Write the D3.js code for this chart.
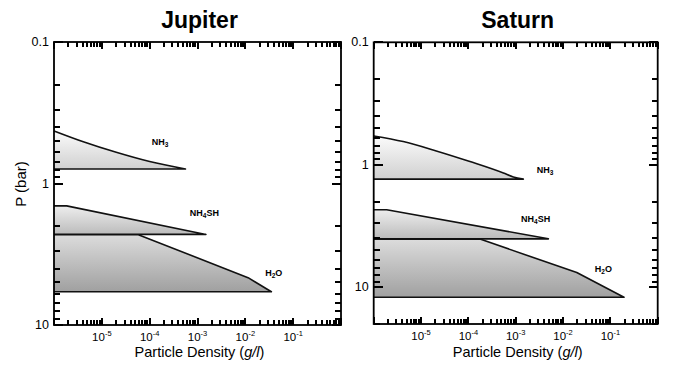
<!DOCTYPE html>
<html>
<head>
<meta charset="utf-8">
<script src="https://cdn.jsdelivr.net/npm/d3@7"></script>
<style>
	body { margin: 0; background: #fff; }
	svg { display: block; font-family: "Liberation Sans", Arial, sans-serif; }
</style>
</head>
<body>
<svg id="svg_main" width="675" height="369"></svg>
<script>
// cloud profiles: [density g/l, pressure bar], top edge from left to tip, then base
var jup_nh3 = [[1e-6, 0.425], [4.1e-6, 0.507], [2.0e-5, 0.602], [1.0e-4, 0.70], [5.6e-4, 0.79]];
var jup_nh4sh = [[1e-6, 1.44], [1.84e-6, 1.44], [1.5e-3, 2.29]];
var jup_h2o = [[1e-6, 2.30], [5.8e-5, 2.30], [1.14e-2, 4.63], [3.5e-2, 5.82]];

var sat_nh3 = [[1e-6, 0.582], [4.2e-6, 0.647], [2.1e-5, 0.772], [1.08e-4, 0.943], [5.5e-4, 1.17], [8.9e-4, 1.26], [1.45e-3, 1.31]];
var sat_nh4sh = [[1e-6, 2.33], [1.88e-6, 2.33], [4.9e-3, 4.03]];
var sat_h2o = [[1e-6, 4.05], [1.76e-4, 4.05], [1.95e-2, 7.6], [0.194, 12.1]];

var cloud_names = ["NH3", "NH4SH", "H2O"];
var jup_labels = [[1.1e-4, 0.535], [6.9e-4, 1.71], [2.6e-2, 4.47]];
var sat_labels = [[2.8e-3, 1.16], [1.3e-3, 2.96], [4.7e-2, 7.5]];

var x_domain = [1e-6, 1];
var jup_p_domain = [0.1, 10];
var sat_p_domain = [0.1, 20];
var x_tick_labels = [1e-5, 1e-4, 1e-3, 1e-2, 1e-1];
var p_tick_labels = [0.1, 1, 10];

var grads = [["#fbfbfb", "#d0d0d0"], ["#eeeeee", "#bbbbbb"], ["#dcdcdc", "#a0a0a0"]];

var svg = d3.select("#svg_main");
var defs = svg.append("defs");
grads.forEach((g, i) => {
	let lg = defs.append("linearGradient")
		.attr("id", `grad${i}`)
		.attr("x1", 0).attr("y1", 0).attr("x2", 0).attr("y2", 1);
	lg.append("stop").attr("offset", "0%").attr("stop-color", g[0]);
	lg.append("stop").attr("offset", "100%").attr("stop-color", g[1]);
});

function isDecade(v) {
	let l = Math.log10(v);
	return Math.abs(l - Math.round(l)) < 1e-6;
}

function subText(sel, name) {
	let parts = name.match(/[A-Z]+|\d+/g);
	let sub = false;
	for (let p of parts) {
		if (/\d/.test(p)) {
			sel.append("tspan").attr("font-size", "6.5px").attr("dy", 2).text(p);
			sub = true;
		} else {
			let t = sel.append("tspan").text(p);
			if (sub) { t.attr("dy", -2); sub = false; }
		}
	}
}

function panel(opt) {
	var g = svg.append("g");
	var x = d3.scaleLog().domain(x_domain).range([opt.left, opt.right]);
	var y = d3.scaleLog().domain(opt.pdom).range([opt.top, opt.bottom]);

	opt.clouds.forEach((c, i) => {
		let top = d3.line().x(d => x(d[0])).y(d => y(d[1]))
			.curve(i == 0 ? d3.curveMonotoneX : d3.curveLinear);
		let tip = c[c.length - 1];
		let edge = top(c) + `L${x(x_domain[0])},${y(tip[1])}`;
		g.append("path")
			.attr("d", edge + "Z")
			.attr("fill", `url(#grad${i})`)
			.attr("stroke", "none");
		g.append("path")
			.attr("d", edge)
			.attr("fill", "none")
			.attr("stroke", "#111")
			.attr("stroke-width", 1.6)
			.attr("stroke-linejoin", "round");
	});

	g.append("rect")
		.attr("x", opt.left).attr("y", opt.top)
		.attr("width", opt.right - opt.left).attr("height", opt.bottom - opt.top)
		.attr("fill", "none").attr("stroke", "#000").attr("stroke-width", 1.8);

	// ticks on all four sides, pointing inward, drawn over the frame
	var tk = g.append("g").attr("fill", "#000").attr("shape-rendering", "crispEdges");
	var xt = x.ticks();
	tk.selectAll(".xb").data(xt).join("rect")
		.attr("x", v => x(v) - 1).attr("width", 2)
		.attr("y", v => opt.bottom - (isDecade(v) ? 7 : 5))
		.attr("height", v => isDecade(v) ? 7 : 5);
	tk.selectAll(".xt").data(xt).join("rect")
		.attr("x", v => x(v) - 1).attr("width", 2)
		.attr("y", opt.top)
		.attr("height", v => isDecade(v) ? 7 : 5);
	var yt = y.ticks();
	tk.selectAll(".yl").data(yt).join("rect")
		.attr("y", v => y(v) - 1).attr("height", 2)
		.attr("x", opt.left)
		.attr("width", v => isDecade(v) ? 9 : 6);
	tk.selectAll(".yr").data(yt).join("rect")
		.attr("y", v => y(v) - 1).attr("height", 2)
		.attr("x", v => opt.right - (isDecade(v) ? 9 : 6))
		.attr("width", v => isDecade(v) ? 9 : 6);

	// tick labels
	x_tick_labels.forEach(v => {
		let t = g.append("text")
			.attr("x", x(v)).attr("y", opt.bottom + 16)
			.attr("text-anchor", "middle")
			.attr("font-size", "11.5px");
		t.append("tspan").text("10");
		t.append("tspan").attr("font-size", "7.5px").attr("dy", -5).text("-" + Math.round(-Math.log10(v)));
	});
	p_tick_labels.filter(v => v >= opt.pdom[0] && v <= opt.pdom[1]).forEach(v => {
		g.append("text")
			.attr("x", opt.left - 5).attr("y", y(v) + 4)
			.attr("text-anchor", "end")
			.attr("font-size", "12.5px")
			.text(v);
	});

	// cloud labels
	opt.labels.forEach((l, i) => {
		let t = g.append("text")
			.attr("x", x(l[0])).attr("y", y(l[1]))
			.attr("font-size", "9px")
			.attr("font-weight", "bold");
		subText(t, cloud_names[i]);
	});

	g.append("text")
		.attr("x", (opt.left + opt.right) / 2 + 2).attr("y", 28)
		.attr("text-anchor", "middle")
		.attr("font-size", "23px")
		.attr("font-weight", "bold")
		.text(opt.title);

	let xl = g.append("text")
		.attr("x", (opt.left + opt.right) / 2 + 2).attr("y", 356.5)
		.attr("text-anchor", "middle")
		.attr("font-size", "14.5px");
	xl.append("tspan").text("Particle Density (");
	xl.append("tspan").attr("font-style", "italic").text("g/l");
	xl.append("tspan").text(")");
}

panel({ title: "Jupiter", left: 54, right: 341, top: 42, bottom: 325, pdom: jup_p_domain,
	clouds: [jup_nh3, jup_nh4sh, jup_h2o], labels: jup_labels });
panel({ title: "Saturn", left: 373.7, right: 657.7, top: 42.3, bottom: 324, pdom: sat_p_domain,
	clouds: [sat_nh3, sat_nh4sh, sat_h2o], labels: sat_labels });

svg.append("text")
	.attr("transform", "translate(26, 184) rotate(-90)")
	.attr("text-anchor", "middle")
	.attr("font-size", "15px")
	.text("P (bar)");
</script>
</body>
</html>
